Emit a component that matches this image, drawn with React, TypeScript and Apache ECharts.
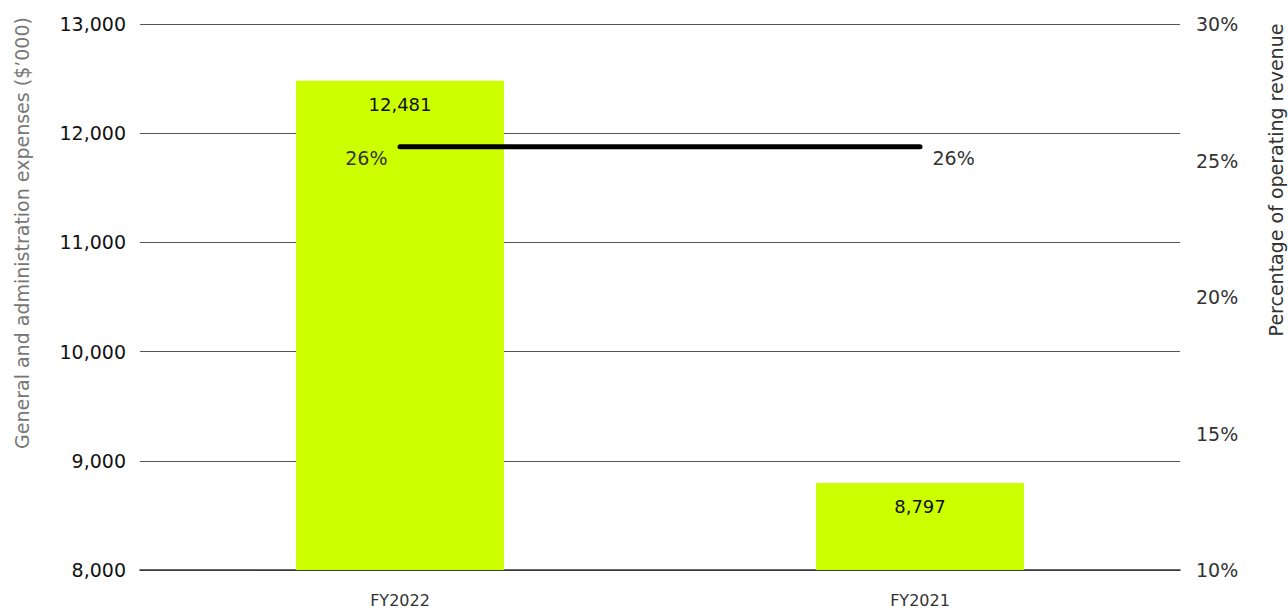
import React, { useEffect, useRef } from "react";
import * as echarts from "echarts";

const categories = ["FY2022", "FY2021"];
const expenses = [12481, 8797];
const percentOfRevenue = [25.5, 25.5];
const percentLabels = ["26%", "26%"];
const leftTitle = "General and administration expenses ($\u2019000)";
const rightTitle = "Percentage of operating revenue";

const FONT = "'DejaVu Sans', 'Liberation Sans', sans-serif";

export default function App() {
  const ref = useRef<HTMLDivElement>(null);
  useEffect(() => {
    if (!ref.current) return;
    const chart = echarts.init(ref.current, undefined, { renderer: "svg" });
    chart.setOption({
      animation: false,
      backgroundColor: "#ffffff",
      textStyle: { fontFamily: FONT },
      grid: { left: 140, right: 108, top: 24, bottom: 41 },
      xAxis: {
        type: "category",
        data: categories,
        axisLine: { show: true, lineStyle: { color: "#333333", width: 1.5 } },
        axisTick: { show: false },
        axisLabel: { color: "#333333", fontSize: 16, margin: 22, fontFamily: FONT },
      },
      yAxis: [
        {
          type: "value",
          min: 8000,
          max: 13000,
          interval: 1000,
          axisLine: { show: false },
          axisTick: { show: false },
          splitLine: { show: true, lineStyle: { color: "#555555", width: 1 } },
          axisLabel: {
            color: "#111111",
            fontSize: 19,
            margin: 14,
            fontFamily: FONT,
            formatter: (v: number) => v.toLocaleString("en-US"),
          },
        },
        {
          type: "value",
          min: 10,
          max: 30,
          interval: 5,
          position: "right",
          axisLine: { show: false },
          axisTick: { show: false },
          splitLine: { show: false },
          axisLabel: {
            color: "#333333",
            fontSize: 19,
            margin: 16,
            fontFamily: FONT,
            formatter: (v: number) => v + "%",
          },
        },
      ],
      series: [
        {
          type: "bar",
          data: expenses,
          barWidth: "40%",
          itemStyle: { color: "#CCFF00" },
          label: {
            show: true,
            position: "insideTop",
            distance: 15,
            color: "#111111",
            fontSize: 18,
            fontFamily: FONT,
            formatter: (p: any) => Number(p.value).toLocaleString("en-US"),
          },
          z: 1,
        },
        {
          type: "line",
          yAxisIndex: 1,
          data: percentOfRevenue.map((v, i) => ({
            value: v,
            label: {
              show: true,
              position: i === 0 ? "left" : "right",
              distance: 12,
              offset: [0, 11],
              formatter: percentLabels[i],
              color: "#333333",
              fontSize: 19,
              fontFamily: FONT,
            },
          })),
          symbol: "circle",
          symbolSize: 1,
          showSymbol: true,
          itemStyle: { color: "#000000" },
          lineStyle: { color: "#000000", width: 5, cap: "round" },
          z: 3,
        },
      ],
      graphic: [
        {
          type: "text",
          x: 22,
          y: 233,
          rotation: Math.PI / 2,
          style: {
            text: leftTitle,
            fill: "#777777",
            fontSize: 19,
            fontFamily: FONT,
            align: "center",
            verticalAlign: "middle",
          },
        },
        {
          type: "text",
          x: 1276,
          y: 180,
          rotation: Math.PI / 2,
          style: {
            text: rightTitle,
            fill: "#333333",
            fontSize: 19,
            fontFamily: FONT,
            align: "center",
            verticalAlign: "middle",
          },
        },
      ],
    });
    return () => chart.dispose();
  }, []);
  return <div ref={ref} style={{ width: 1288, height: 611, position: "absolute", left: 0, top: 0 }} />;
}
